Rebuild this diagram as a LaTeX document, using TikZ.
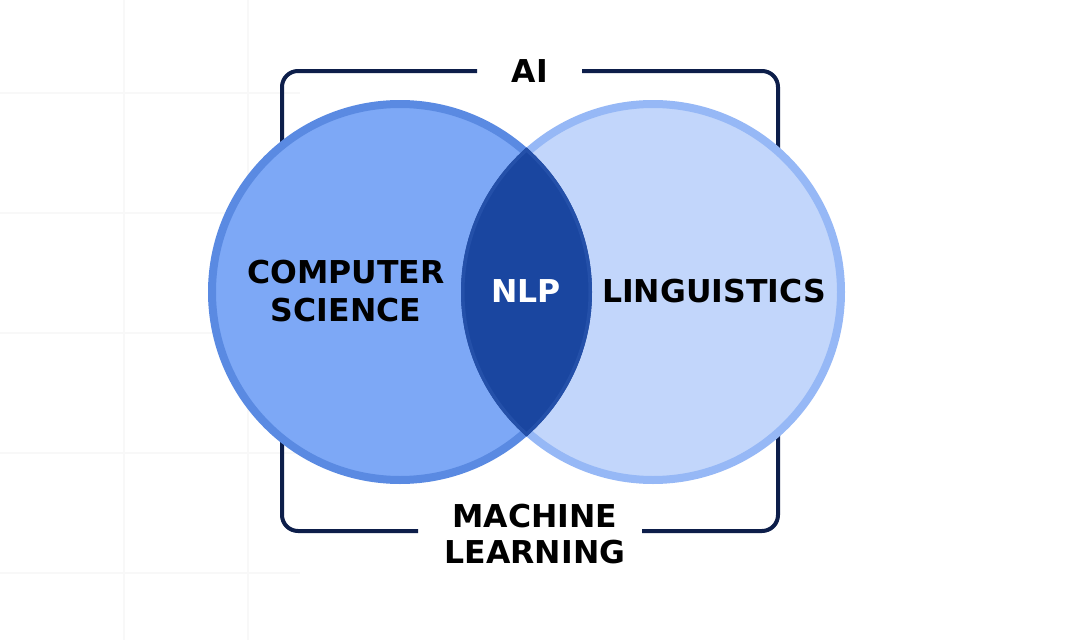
\documentclass[tikz,border=0pt]{standalone}
\usepackage{fontspec}
\setmainfont{DejaVu Sans}
\definecolor{csfill}{HTML}{7DA8F6}
\definecolor{csline}{HTML}{5A8AE2}
\definecolor{lgfill}{HTML}{C2D6FB}
\definecolor{lgline}{HTML}{96B8F6}
\definecolor{lensfill}{HTML}{1A46A0}
\definecolor{lensline}{HTML}{2450A9}
\definecolor{navy}{HTML}{0D1E4A}
\definecolor{gridc}{HTML}{F8F8F8}
\tikzset{
  lbl/.style={font=\fontsize{31.5}{37.5}\selectfont\bfseries, align=center, inner sep=0pt, text=black},
  bracket/.style={draw=navy, line width=4pt, rounded corners=16pt},
}
\begin{document}
\begin{tikzpicture}[x=1pt,y=-1pt]
\useasboundingbox (0,0) rectangle (1080,640);
\fill[white] (0,0) rectangle (1080,640);
% faint background grid
\foreach \gx in {124,248} \draw[gridc, line width=2.5pt] (\gx,0) -- (\gx,640);
\foreach \gy in {93,213,333,453,573} \draw[gridc, line width=2.5pt] (0,\gy) -- (300,\gy);
% coordinates
\coordinate (L) at (400,292);
\coordinate (R) at (653,292);
% title AI and bracket
\node[lbl] (ai) at (530,71) {AI};
\node[lbl, font=\fontsize{31.5}{36}\selectfont\bfseries] (ml) at (535,534) {MACHINE\\LEARNING};
\coordinate (tl) at (477,71);
\coordinate (tr) at (582,71);
\coordinate (bl) at (418,531);
\coordinate (br) at (642,531);
\draw[bracket] (tl) -- (282,71) -- (282,531) -- (bl);
\draw[bracket] (tr) -- (778,71) -- (778,531) -- (br);
% circles
\draw[fill=csfill, draw=csline, line width=8pt] (L) circle (188pt);
\draw[fill=lgfill, draw=lgline, line width=8pt] (R) circle (188pt);
% lens
\begin{scope}
  \clip (L) circle (192pt);
  \clip (R) circle (192pt);
  \fill[lensfill] (L) circle (200pt);
  \draw[lensline, line width=5pt] (L) circle (191pt);
  \draw[lensline, line width=5pt] (R) circle (191pt);
\end{scope}
% labels
\node[lbl] (cs) at (346,291) {COMPUTER\\SCIENCE};
\node[lbl] (lg) at (714,291) {LINGUISTICS};
\node[lbl, text=white] (nlp) at (526,291) {NLP};
\end{tikzpicture}
\end{document}
